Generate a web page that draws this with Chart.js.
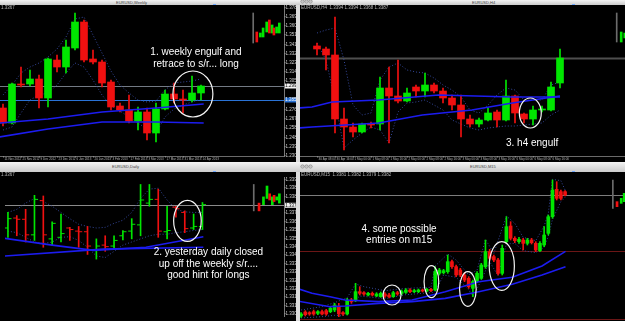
<!DOCTYPE html>
<html>
<head>
<meta charset="utf-8">
<script src="https://cdn.jsdelivr.net/npm/chart.js@4.4.1/dist/chart.umd.min.js"></script>
<style>
  body { margin: 0; width: 625px; height: 321px; overflow: hidden; position: relative; background: #dcdcdc; font-family: "Liberation Sans", Arial, sans-serif; }
  canvas { position: absolute; background: #000; }
  .bar { position: absolute; left: 0; width: 625px; background: linear-gradient(#f4f4f4, #cbcbcb); }
  .ttl { position: absolute; font-size: 4px; line-height: 4px; color: #444; white-space: nowrap; }
  .btn { position: absolute; width: 3px; height: 3px; border-radius: 50%; background: #c4c4c4; box-shadow: 0 0 0 0.5px #8a8a8a; }
  .mark { position: absolute; width: 3px; height: 1px; background: #6fa8ff; }
</style>
</head>
<body>
<div class="bar" style="top:0;height:5px"></div>
<div class="ttl" style="left:116px;top:0.5px">EURUSD,Weekly</div>
<div class="ttl" style="left:472px;top:0.5px">EURUSD,H4</div>
<div class="btn" style="left:301px;top:0px"></div><div class="btn" style="left:305px;top:0px"></div><div class="btn" style="left:309px;top:0px"></div>
<div class="bar" style="top:162px;height:10px"></div>
<div class="ttl" style="left:112px;top:165px">EURUSD,Daily</div>
<div class="ttl" style="left:470px;top:165px">EURUSD,M15</div>
<div class="btn" style="left:301px;top:165px"></div><div class="btn" style="left:305px;top:165px"></div><div class="btn" style="left:309px;top:165px"></div>
<div class="mark" style="left:213px;top:4px"></div><div class="mark" style="left:572px;top:4px"></div>
<div class="mark" style="left:213px;top:171px"></div><div class="mark" style="left:572px;top:171px"></div>

<canvas id="tl" width="296" height="157" style="left:0;top:5px"></canvas>
<canvas id="tr" width="325" height="157" style="left:300px;top:5px"></canvas>
<canvas id="bl" width="296" height="149" style="left:0;top:172px"></canvas>
<canvas id="br" width="325" height="149" style="left:300px;top:172px"></canvas>

<script>
const GREEN = '#00e600';
const RED = '#f01010';
const MA = '#1c1cf0';
const ENV = '#34479a';

// weekly (top left)
const tlOpen  = [1.277, 1.262, 1.301, 1.301, 1.306, 1.287, 1.325, 1.318, 1.337, 1.363, 1.326, 1.323, 1.303, 1.279, 1.275, 1.264, 1.273, 1.252, 1.276, 1.291, 1.286, 1.285, 1.292];
const tlHigh  = [1.281, 1.302, 1.318, 1.315, 1.310, 1.327, 1.330, 1.345, 1.372, 1.365, 1.335, 1.325, 1.305, 1.282, 1.290, 1.278, 1.277, 1.282, 1.295, 1.302, 1.295, 1.309, 1.300];
const tlLow   = [1.259, 1.261, 1.298, 1.299, 1.277, 1.278, 1.313, 1.312, 1.335, 1.323, 1.321, 1.298, 1.275, 1.273, 1.262, 1.255, 1.245, 1.243, 1.275, 1.282, 1.272, 1.283, 1.285];
const tlClose = [1.262, 1.301, 1.300, 1.306, 1.287, 1.326, 1.318, 1.338, 1.363, 1.325, 1.323, 1.302, 1.278, 1.275, 1.264, 1.273, 1.252, 1.276, 1.291, 1.286, 1.285, 1.292, 1.299];
const tlEnvUp = [1.290, 1.300, 1.312, 1.318, 1.322, 1.328, 1.336, 1.348, 1.366, 1.368, 1.350, 1.332, 1.314, 1.300, 1.292, 1.285, 1.283, 1.284, 1.295, 1.302, 1.303, 1.304, 1.306];
const tlEnvDn = [1.255, 1.258, 1.272, 1.285, 1.290, 1.292, 1.300, 1.312, 1.322, 1.318, 1.305, 1.290, 1.279, 1.274, 1.268, 1.262, 1.256, 1.252, 1.268, 1.276, 1.280, 1.283, 1.286];
const tlMaFast = [[-0.4, 1.262], [5, 1.266], [11, 1.273], [17, 1.277], [22.3, 1.281]];
const tlMaSlow = [[-0.4, 1.248], [5, 1.256], [11, 1.263], [17, 1.263], [22.3, 1.262]];
const tlInsetX = [28.2, 28.6, 28.9, 29.3, 29.6, 29.9, 30.1, 30.4, 30.7];
const tlInsetOpen  = [1.353, 1.348, 1.348, 1.353, 1.365, 1.352, 1.357, 1.352, 1.352];
const tlInsetClose = [1.343, 1.352, 1.357, 1.363, 1.352, 1.360, 1.350, 1.358, 1.362];
const tlYTicks = [1.378, 1.369, 1.360, 1.351, 1.341, 1.332, 1.323, 1.314, 1.305, 1.276, 1.267, 1.258, 1.248, 1.239, 1.230];
const tlXTicks = [0, 2, 4, 6, 8, 10, 12, 14, 16, 18, 20, 22];
const tlXLabels = ['11 Nov 2012', '25 Nov 2012', '9 Dec 2012', '23 Dec 2012', '6 Jan 2013', '20 Jan 2013', '3 Feb 2013', '17 Feb 2013', '3 Mar 2013', '17 Mar 2013', '31 Mar 2013', '14 Apr 2013'];

// H4 (top right)
const trOpen  = [1.3454, 1.3451, 1.3445, 1.3381, 1.3373, 1.3368, 1.3376, 1.3376, 1.3412, 1.3404, 1.3399, 1.3413, 1.3409, 1.3415, 1.3409, 1.3402, 1.3395, 1.3381, 1.3376, 1.3380, 1.3388, 1.3380, 1.3404, 1.3386, 1.3381, 1.3390, 1.3390, 1.3417];
const trHigh  = [1.3457, 1.3453, 1.3483, 1.3392, 1.3377, 1.3377, 1.3378, 1.3423, 1.3433, 1.3440, 1.3412, 1.3415, 1.3427, 1.3417, 1.3412, 1.3405, 1.3405, 1.3385, 1.3382, 1.3392, 1.3390, 1.3420, 1.3405, 1.3387, 1.3394, 1.3394, 1.3418, 1.3451];
const trLow   = [1.3445, 1.3430, 1.3367, 1.3350, 1.3363, 1.3367, 1.3372, 1.3370, 1.3357, 1.3397, 1.3398, 1.3403, 1.3403, 1.3407, 1.3397, 1.3390, 1.3363, 1.3373, 1.3373, 1.3379, 1.3373, 1.3379, 1.3377, 1.3377, 1.3375, 1.3388, 1.3389, 1.3412];
const trClose = [1.3451, 1.3445, 1.3381, 1.3373, 1.3368, 1.3376, 1.3375, 1.3412, 1.3404, 1.3399, 1.3407, 1.3409, 1.3415, 1.3409, 1.3402, 1.3395, 1.3381, 1.3376, 1.3380, 1.3387, 1.3380, 1.3404, 1.3387, 1.3381, 1.3390, 1.3391, 1.3413, 1.3442];
const trEnvUp = [1.3467, 1.3470, 1.3472, 1.3440, 1.3395, 1.3385, 1.3387, 1.3420, 1.3433, 1.3437, 1.3430, 1.3428, 1.3427, 1.3422, 1.3415, 1.3410, 1.3403, 1.3390, 1.3387, 1.3395, 1.3405, 1.3412, 1.3410, 1.3400, 1.3400, 1.3400, 1.3415, 1.3418];
const trEnvDn = [1.3457, 1.3440, 1.3400, 1.3352, 1.3360, 1.3367, 1.3373, 1.3370, 1.3357, 1.3388, 1.3397, 1.3398, 1.3400, 1.3395, 1.3390, 1.3380, 1.3376, 1.3372, 1.3370, 1.3372, 1.3373, 1.3374, 1.3374, 1.3375, 1.3376, 1.3377, 1.3385, 1.3390];
const trMaFast = [[-2, 1.3392], [-0.56, 1.3393], [1.67, 1.3398], [6.85, 1.3400], [13.5, 1.3405], [21.7, 1.3403], [27, 1.3403]];
const trMaSlow = [[-2, 1.3372], [-0.56, 1.3373], [6.85, 1.3377], [11.7, 1.3385], [17.2, 1.3390], [21.7, 1.3397], [27, 1.3404]];
const trInsetX = [33.8, 34.2, 34.6];
const trInsetOpen  = [1.3458, 1.3462, 1.3463];
const trInsetClose = [1.3468, 1.3467, 1.3470];
const trXTicks = [0, 2, 4, 6, 8, 10, 12, 14, 16, 18, 20, 22, 24, 26];
const trXLabels = ['30 Apr 08:00', '30 Apr 16:00', '1 May 00:00', '1 May 08:00', '1 May 16:00', '2 May 00:00', '2 May 08:00', '2 May 16:00', '3 May 00:00', '3 May 08:00', '3 May 16:00', '6 May 00:00', '6 May 08:00', '6 May 16:00'];

// daily bars (bottom left)
const blOpen  = [1.33600, 1.33664, 1.33656, 1.33556, 1.33776, 1.33530, 1.33540, 1.33600, 1.33580, 1.33576, 1.33460, 1.33490, 1.33484, 1.33550, 1.33580, 1.33620, 1.33760, 1.33784, 1.33576, 1.33734, 1.33700, 1.33600, 1.33610];
const blHigh  = [1.33700, 1.33680, 1.33720, 1.33810, 1.33806, 1.33640, 1.33690, 1.33604, 1.33610, 1.33610, 1.33530, 1.33550, 1.33550, 1.33584, 1.33660, 1.33880, 1.33880, 1.33850, 1.33740, 1.33740, 1.33710, 1.33690, 1.33764];
const blLow   = [1.33540, 1.33550, 1.33510, 1.33520, 1.33476, 1.33490, 1.33510, 1.33520, 1.33476, 1.33430, 1.33400, 1.33450, 1.33460, 1.33524, 1.33530, 1.33550, 1.33740, 1.33540, 1.33530, 1.33670, 1.33570, 1.33590, 1.33590];
const blClose = [1.33660, 1.33656, 1.33556, 1.33784, 1.33556, 1.33630, 1.33564, 1.33590, 1.33576, 1.33484, 1.33484, 1.33480, 1.33520, 1.33576, 1.33624, 1.33780, 1.33784, 1.33580, 1.33584, 1.33724, 1.33596, 1.33610, 1.33750];
const blEnvUp = [1.33700, 1.33720, 1.33760, 1.33790, 1.33770, 1.33740, 1.33700, 1.33660, 1.33624, 1.33610, 1.33600, 1.33604, 1.33630, 1.33650, 1.33700, 1.33790, 1.33850, 1.33856, 1.33780, 1.33720, 1.33704, 1.33700, 1.33700];
const blEnvDn = [1.33580, 1.33570, 1.33540, 1.33510, 1.33500, 1.33510, 1.33540, 1.33544, 1.33520, 1.33476, 1.33420, 1.33410, 1.33450, 1.33490, 1.33510, 1.33530, 1.33550, 1.33560, 1.33560, 1.33570, 1.33576, 1.33584, 1.33590];
const blMaFast = [[-0.4, 1.33534], [5, 1.33490], [9.7, 1.33456], [15.6, 1.33476], [22.1, 1.33544]];
const blMaSlow = [[-0.4, 1.33420], [10.8, 1.33464], [22.1, 1.33476]];
const blInsetX = [28.4, 28.9, 29.3, 29.6, 29.9, 30.1, 30.4, 30.7];
const blInsetOpen  = [1.33760, 1.33750, 1.33790, 1.33820, 1.33750, 1.33810, 1.33780, 1.33760];
const blInsetClose = [1.33710, 1.33800, 1.33870, 1.33780, 1.33800, 1.33770, 1.33800, 1.33820];
const blYTicks = [1.33916, 1.33862, 1.33808, 1.33700, 1.33646, 1.33592, 1.33538, 1.33484, 1.33430, 1.33376, 1.33322, 1.33268, 1.33214, 1.33160, 1.33106, 1.33052];

// M15 (bottom right)
const brOpen  = [1.33064, 1.33088, 1.33084, 1.33090, 1.33080, 1.33090, 1.33096, 1.33090, 1.33100, 1.33120, 1.33084, 1.33076, 1.33160, 1.33160, 1.33210, 1.33204, 1.33190, 1.33200, 1.33184, 1.33180, 1.33196, 1.33190, 1.33180, 1.33204, 1.33200, 1.33206, 1.33220, 1.33210, 1.33210, 1.33220, 1.33214, 1.33224, 1.33220, 1.33320, 1.33324, 1.33330, 1.33390, 1.33360, 1.33340, 1.33310, 1.33290, 1.33230, 1.33270, 1.33290, 1.33360, 1.33450, 1.33420, 1.33400, 1.33320, 1.33510, 1.33604, 1.33530, 1.33510, 1.33520, 1.33500, 1.33520, 1.33500, 1.33456, 1.33490, 1.33560, 1.33660, 1.33824, 1.33810, 1.33810];
const brHigh  = [1.33084, 1.33096, 1.33090, 1.33100, 1.33096, 1.33100, 1.33104, 1.33120, 1.33140, 1.33140, 1.33090, 1.33170, 1.33170, 1.33260, 1.33240, 1.33210, 1.33206, 1.33208, 1.33204, 1.33208, 1.33204, 1.33200, 1.33212, 1.33212, 1.33220, 1.33228, 1.33228, 1.33224, 1.33226, 1.33226, 1.33230, 1.33230, 1.33360, 1.33350, 1.33344, 1.33430, 1.33400, 1.33370, 1.33350, 1.33324, 1.33300, 1.33280, 1.33330, 1.33380, 1.33520, 1.33464, 1.33430, 1.33410, 1.33490, 1.33660, 1.33630, 1.33540, 1.33536, 1.33530, 1.33530, 1.33530, 1.33510, 1.33510, 1.33600, 1.33670, 1.33880, 1.33870, 1.33820, 1.33816];
const brLow   = [1.33056, 1.33064, 1.33068, 1.33068, 1.33072, 1.33070, 1.33068, 1.33084, 1.33090, 1.33060, 1.33068, 1.33070, 1.33140, 1.33150, 1.33190, 1.33188, 1.33184, 1.33184, 1.33180, 1.33176, 1.33176, 1.33172, 1.33176, 1.33188, 1.33192, 1.33200, 1.33204, 1.33204, 1.33204, 1.33208, 1.33208, 1.33210, 1.33216, 1.33310, 1.33316, 1.33320, 1.33350, 1.33300, 1.33300, 1.33270, 1.33230, 1.33180, 1.33264, 1.33284, 1.33350, 1.33400, 1.33390, 1.33310, 1.33310, 1.33500, 1.33520, 1.33504, 1.33500, 1.33460, 1.33490, 1.33496, 1.33450, 1.33450, 1.33480, 1.33550, 1.33650, 1.33760, 1.33760, 1.33784];
const brClose = [1.33076, 1.33072, 1.33076, 1.33076, 1.33090, 1.33076, 1.33076, 1.33110, 1.33130, 1.33076, 1.33076, 1.33160, 1.33150, 1.33210, 1.33200, 1.33196, 1.33200, 1.33190, 1.33196, 1.33200, 1.33184, 1.33180, 1.33204, 1.33196, 1.33210, 1.33220, 1.33210, 1.33216, 1.33220, 1.33214, 1.33224, 1.33216, 1.33330, 1.33340, 1.33336, 1.33390, 1.33360, 1.33310, 1.33310, 1.33280, 1.33240, 1.33270, 1.33320, 1.33370, 1.33450, 1.33410, 1.33400, 1.33320, 1.33470, 1.33600, 1.33530, 1.33516, 1.33524, 1.33500, 1.33520, 1.33504, 1.33460, 1.33500, 1.33550, 1.33660, 1.33820, 1.33770, 1.33770, 1.33790];
const brEnvUp = [[0, 1.33100], [5, 1.33120], [8, 1.33144], [11, 1.33174], [13, 1.33256], [15, 1.33240], [20, 1.33216], [25, 1.33230], [31, 1.33236], [32, 1.33364], [35, 1.33436], [37, 1.33400], [40, 1.33310], [42, 1.33340], [44, 1.33524], [46, 1.33440], [49, 1.33664], [51, 1.33620], [53, 1.33536], [56, 1.33516], [58, 1.33604], [59, 1.33680], [60, 1.33884], [62, 1.33876], [63, 1.33820]];
const brEnvDn = [[0, 1.33052], [5, 1.33060], [8, 1.33068], [10, 1.33064], [12, 1.33136], [14, 1.33184], [20, 1.33168], [25, 1.33192], [31, 1.33204], [32, 1.33210], [34, 1.33310], [37, 1.33296], [40, 1.33224], [41, 1.33176], [43, 1.33280], [45, 1.33390], [47, 1.33306], [49, 1.33496], [51, 1.33500], [53, 1.33456], [56, 1.33444], [58, 1.33476], [59, 1.33544], [60, 1.33644], [62, 1.33750], [63, 1.33776]];
const brMaFast = [[-0.5, 1.33226], [2.6, 1.33200], [6.9, 1.33180], [10.5, 1.33160], [18.5, 1.33150], [26.5, 1.33160], [34.4, 1.33210], [42.4, 1.33270], [50.4, 1.33296], [57.5, 1.33364], [63.1, 1.33452]];
const brMaSlow = [[-0.5, 1.33152], [6.9, 1.33120], [10.5, 1.33124], [18.5, 1.33140], [26.5, 1.33150], [34.4, 1.33170], [42.4, 1.33210], [50.4, 1.33254], [57.5, 1.33310], [63.1, 1.33360]];
const brInsetX = [75.4, 76.4, 77.1];
const brInsetOpen  = [1.33750, 1.33740, 1.33750];
const brInsetClose = [1.33720, 1.33770, 1.33800];

// levels, rings, notes and axis labels drawn on top of the chart
const overlay = {
  id: 'overlay',
  beforeDatasetsDraw(chart, args, o) {
    const { ctx, chartArea: a } = chart, y = chart.scales.y;
    ctx.save();
    (o.levels || []).forEach(lv => {
      const py = Math.round(y.getPixelForValue(lv.value)) + 0.5;
      ctx.strokeStyle = lv.color;
      ctx.lineWidth = lv.width || 1;
      ctx.beginPath();
      ctx.moveTo(a.left, py);
      ctx.lineTo(a.right, py);
      ctx.stroke();
    });
    ctx.restore();
  },
  afterDatasetsDraw(chart, args, o) {
    const { ctx } = chart, x = chart.scales.x, y = chart.scales.y;
    ctx.save();
    ctx.strokeStyle = '#f4f4f4';
    ctx.lineWidth = 1.2;
    (o.rings || []).forEach(r => {
      const cx = x.getPixelForValue(r.x), cy = y.getPixelForValue(r.y);
      const rx = x.getPixelForValue(r.x + r.rx) - cx;
      const ry = cy - y.getPixelForValue(r.y + r.ry);
      ctx.beginPath();
      ctx.ellipse(cx, cy, rx, ry, 0, 0, Math.PI * 2);
      ctx.stroke();
    });
    ctx.fillStyle = '#ffffff';
    ctx.font = '10px "Liberation Sans", Arial, sans-serif';
    ctx.textAlign = 'center';
    ctx.textBaseline = 'middle';
    (o.notes || []).forEach(n => ctx.fillText(n.text, x.getPixelForValue(n.x), y.getPixelForValue(n.y)));
    ctx.restore();
  },
  afterDraw(chart, args, o) {
    const { ctx, chartArea: a } = chart, x = chart.scales.x, y = chart.scales.y;
    ctx.save();
    ctx.textAlign = 'left';
    ctx.font = '3px "Liberation Sans", Arial, sans-serif';
    ctx.textBaseline = 'top';
    ctx.fillStyle = '#b4b4b4';
    ctx.strokeStyle = '#8a8a8a';
    ctx.lineWidth = 1;
    (o.xTicks || []).forEach((v, i) => {
      const px = Math.round(x.getPixelForValue(v)) + 0.5;
      ctx.beginPath(); ctx.moveTo(px, a.bottom); ctx.lineTo(px, a.bottom + 1.5); ctx.stroke();
      ctx.fillText(o.xLabels[i], px + 1, a.bottom + 1.5);
    });
    ctx.font = '4.5px "Liberation Sans", Arial, sans-serif';
    ctx.textBaseline = 'middle';
    ctx.fillStyle = '#cfcfcf';
    (o.yTicks || []).forEach(v => {
      const py = Math.round(y.getPixelForValue(v)) + 0.5;
      ctx.beginPath(); ctx.moveTo(a.right, py); ctx.lineTo(a.right + 1.5, py); ctx.stroke();
      ctx.fillText(v.toFixed(4), a.right + 1.5, py);
    });
    (o.levels || []).forEach(lv => {
      if (!lv.box) return;
      const py = y.getPixelForValue(lv.value);
      ctx.fillStyle = lv.box;
      ctx.fillRect(a.right + 1, py - 2.5, 11, 5);
      ctx.fillStyle = lv.ink;
      ctx.fillText(lv.value.toFixed(4), a.right + 1.3, py);
    });
    if (o.info) {
      ctx.fillStyle = '#b8b8b8';
      ctx.fillText(o.info, 1, 3);
    }
    ctx.restore();
  }
};

function line(pts, color, width, dash, order) {
  return { type: 'line', data: pts.map(([x, y]) => ({ x, y })), borderColor: color, borderWidth: width,
    borderDash: dash, pointRadius: 0, tension: 0, order };
}

function tickMarks(pts, col) {
  return { type: 'line', data: pts, showLine: false, pointStyle: 'line', pointRadius: 1.8,
    pointBorderColor: col, pointBorderWidth: 1, order: 1 };
}

function build(id, p) {
  const xs = p.open.map((_, i) => i);
  const col = p.open.map((v, i) => p.close[i] >= v ? GREEN : RED);
  const sets = [
    line(p.envUp, ENV, 1, [1, 2], 4),
    line(p.envDn, ENV, 1, [1, 2], 4),
    { type: 'bar', data: xs.map(i => ({ x: i, y: [p.low[i], p.high[i]] })), backgroundColor: col,
      barThickness: 1, grouped: false, order: 2 }
  ];
  if (p.ohlc) {
    sets.push(tickMarks(xs.map(i => ({ x: i - 0.2, y: p.open[i] })), col));
    sets.push(tickMarks(xs.map(i => ({ x: i + 0.2, y: p.close[i] })), col));
  } else {
    sets.push({ type: 'bar', data: xs.map(i => ({ x: i, y: [p.open[i], p.close[i]] })), backgroundColor: col,
      barThickness: p.body, minBarLength: 1, grouped: false, order: 1 });
  }
  sets.push(line(p.maFast, MA, 1.6, [], 0), line(p.maSlow, MA, 1.6, [], 0));

  const q = p.inset;
  sets.push({ type: 'bar', data: q.x.map((x, i) => ({ x, y: [q.open[i], q.close[i]] })),
    backgroundColor: q.open.map((v, i) => q.close[i] >= v ? GREEN : RED), barThickness: 2, grouped: false, order: 1 });
  sets.push({ type: 'bar', data: [{ x: q.rule[0], y: [q.rule[1], q.rule[2]] }], backgroundColor: '#6c6c6c',
    barThickness: 1, grouped: false, order: 1 });

  const xScale = {
    type: 'linear', min: p.xMin, max: p.xMax, offset: false, display: !!p.xTicks,
    grid: { display: false }, border: { color: '#6a6a6a' }, ticks: { display: false }
  };
  if (p.xTicks) xScale.afterFit = s => { s.height = 6; };
  const yScale = {
    type: 'linear', position: 'right', min: p.yMin, max: p.yMax, beginAtZero: false,
    display: !!p.yTicks, grid: { display: false }, border: { color: '#7a7a7a' }, ticks: { display: false }
  };
  if (p.yTicks) yScale.afterFit = s => { s.width = 12; };

  new Chart(document.getElementById(id), {
    type: 'bar',
    data: { datasets: sets },
    options: {
      responsive: false,
      animation: false,
      events: [],
      layout: { padding: 0 },
      plugins: {
        legend: { display: false },
        tooltip: { enabled: false },
        overlay: Object.assign({ xTicks: p.xTicks, xLabels: p.xLabels, yTicks: p.yTicks }, p.overlay)
      },
      scales: { x: xScale, y: yScale }
    },
    plugins: [overlay]
  });
}

build('tl', {
  open: tlOpen, high: tlHigh, low: tlLow, close: tlClose, body: 7,
  envUp: tlEnvUp.map((v, i) => [i, v]), envDn: tlEnvDn.map((v, i) => [i, v]),
  maFast: tlMaFast, maSlow: tlMaSlow,
  inset: { x: tlInsetX, open: tlInsetOpen, close: tlInsetClose, rule: [27.8, 1.342, 1.372] },
  xMin: -0.333, xMax: 31.222, yMin: 1.229, yMax: 1.380,
  yTicks: tlYTicks, xTicks: tlXTicks, xLabels: tlXLabels,
  overlay: {
    info: '1.3367',
    levels: [
      { value: 1.299, color: '#737a84', box: '#f2f2f2', ink: '#000' },
      { value: 1.285, color: '#2a73d6', box: '#2a73d6', ink: '#fff' }
    ],
    rings: [{ x: 21.1, y: 1.291, rx: 2.22, ry: 0.023 }],
    notes: [
      { x: 21.44, y: 1.333, text: '1. weekly engulf and' },
      { x: 21.44, y: 1.321, text: 'retrace to s/r... long' }
    ]
  }
});

build('tr', {
  open: trOpen, high: trHigh, low: trLow, close: trClose, body: 7,
  envUp: trEnvUp.map((v, i) => [i, v]), envDn: trEnvDn.map((v, i) => [i, v]),
  maFast: trMaFast, maSlow: trMaSlow,
  inset: { x: trInsetX, open: trInsetOpen, close: trInsetClose, rule: [33.3, 1.3458, 1.3487] },
  xMin: -1.889, xMax: 34.222, yMin: 1.3344, yMax: 1.3495,
  xTicks: trXTicks, xLabels: trXLabels,
  overlay: {
    info: 'EURUSD,H4  1.3394 1.3394 1.3368 1.3387',
    levels: [{ value: 1.3442, color: '#4e4e4e', width: 2 }],
    rings: [{ x: 23.7, y: 1.3387, rx: 1.22, ry: 0.0015 }],
    notes: [{ x: 23.9, y: 1.3357, text: '3. h4 engulf' }]
  }
});

build('bl', {
  open: blOpen, high: blHigh, low: blLow, close: blClose, ohlc: true,
  envUp: blEnvUp.map((v, i) => [i, v]), envDn: blEnvDn.map((v, i) => [i, v]),
  maFast: blMaFast, maSlow: blMaSlow,
  inset: { x: blInsetX, open: blInsetOpen, close: blInsetClose, rule: [27.8, 1.33710, 1.33880] },
  xMin: -0.333, xMax: 31.222, yMin: 1.33034, yMax: 1.33928,
  yTicks: blYTicks,
  overlay: {
    info: '1.3367',
    levels: [{ value: 1.33746, color: '#8a8a8a', box: '#f2f2f2', ink: '#000' }],
    rings: [{ x: 20.3, y: 1.33646, rx: 1.56, ry: 0.00132 }],
    notes: [
      { x: 22.67, y: 1.33444, text: '2. yesterday daily closed' },
      { x: 22.67, y: 1.33364, text: 'up off the weekly s/r....' },
      { x: 22.67, y: 1.33296, text: 'good hint for longs' }
    ]
  }
});

build('br', {
  open: brOpen, high: brHigh, low: brLow, close: brClose, body: 3,
  envUp: brEnvUp, envDn: brEnvDn,
  maFast: brMaFast, maSlow: brMaSlow,
  inset: { x: brInsetX, open: brInsetOpen, close: brInsetClose, rule: [74.4, 1.33710, 1.33880] },
  xMin: -0.26, xMax: 77.3, yMin: 1.33034, yMax: 1.33928,
  overlay: {
    info: 'EURUSD,M15  1.3381 1.3382 1.3379 1.3382',
    levels: [
      { value: 1.33790, color: '#7d7d7d' },
      { value: 1.33456, color: '#6b1616' },
      { value: 1.33046, color: '#6b1616' }
    ],
    rings: [
      { x: 21.7, y: 1.33190, rx: 2.15, ry: 0.0006 },
      { x: 31.1, y: 1.33270, rx: 1.75, ry: 0.00096 },
      { x: 39.8, y: 1.33226, rx: 1.99, ry: 0.00104 },
      { x: 47.9, y: 1.33364, rx: 3.0, ry: 0.00146 }
    ],
    notes: [
      { x: 23.4, y: 1.33586, text: '4. some possible' },
      { x: 23.4, y: 1.33516, text: 'entries on m15' }
    ]
  }
});
</script>
</body>
</html>
